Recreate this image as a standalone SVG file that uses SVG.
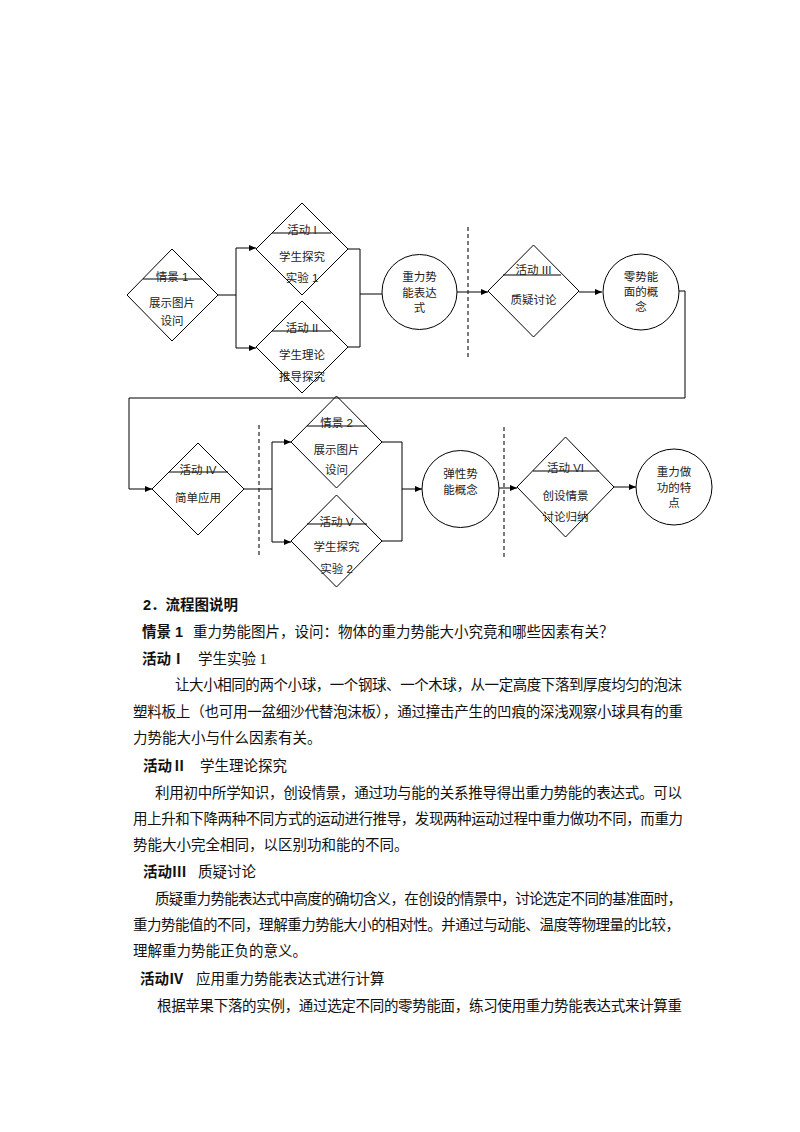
<svg xmlns="http://www.w3.org/2000/svg" width="800" height="1132" viewBox="0 0 800 1132">
<style>
.shape{fill:none;stroke:#000;stroke-width:1}
.ln{fill:none;stroke:#000;stroke-width:1}
.dash{fill:none;stroke:#222;stroke-width:1.2;stroke-dasharray:4,3}
.nt{font-family:"Liberation Sans","Noto Sans CJK SC",sans-serif;font-size:11.5px;fill:#222;text-anchor:middle}
.bt{font-family:"Liberation Serif","Noto Sans CJK SC",serif;font-size:14.5px;fill:#111}
.hd{font-family:"Liberation Sans","Noto Sans CJK SC",sans-serif;font-size:14.5px;font-weight:bold;fill:#111}
</style>
<defs>
<marker id="arr" markerWidth="8" markerHeight="8" refX="7" refY="4" orient="auto" markerUnits="userSpaceOnUse">
<path d="M0,1 L7,4 L0,7 Z" fill="#000"/>
</marker>
</defs>
<rect width="800" height="1132" fill="#fff"/>

<g id="connectors">
<path class="ln" d="M218,295 H236 M236,248 V348"/>
<path class="ln" d="M236,248 H256" marker-end="url(#arr)"/>
<path class="ln" d="M236,348 H256" marker-end="url(#arr)"/>
<path class="ln" d="M348,249 H360 V347 H348 M360,294 H382"/>
<path class="ln" d="M457,292 H488" marker-end="url(#arr)"/>
<path class="ln" d="M579,292 H602" marker-end="url(#arr)"/>
<path class="ln" d="M679,291 H685 V398 H129 V489 H152" marker-end="url(#arr)"/>
<path class="ln" d="M244,489 H272 M272,442 V542"/>
<path class="ln" d="M272,442 H291" marker-end="url(#arr)"/>
<path class="ln" d="M272,542 H291" marker-end="url(#arr)"/>
<path class="ln" d="M382,442 H402 V541 H382"/>
<path class="ln" d="M402,489 H422" marker-end="url(#arr)"/>
<path class="ln" d="M499,488 H517" marker-end="url(#arr)"/>
<path class="ln" d="M614,487 H636" marker-end="url(#arr)"/>
<path class="dash" d="M468,227 V360" stroke="#555"/>
<path class="dash" d="M259,425 V557"/>
<path class="dash" d="M504,427 V560"/>
</g>

<g id="n-qj1">
<polygon class="shape" points="172,249 218,295 172,341 127,295"/>
<line class="ln" x1="143" y1="279" x2="202" y2="279"/>
<text class="nt" x="172" y="281">情景 1</text>
<text class="nt" x="172" y="307">展示图片</text>
<text class="nt" x="172" y="325">设问</text>
</g>

<g id="n-hd1">
<polygon class="shape" points="302,203 348,249 302,295 256,249"/>
<line class="ln" x1="272" y1="233" x2="331" y2="233"/>
<text class="nt" x="302" y="234">活动 I</text>
<text class="nt" x="302" y="261">学生探究</text>
<text class="nt" x="302" y="282">实验 1</text>
</g>

<g id="n-hd2">
<polygon class="shape" points="302,301 348,347 302,393 256,347"/>
<line class="ln" x1="272" y1="331" x2="331" y2="331"/>
<text class="nt" x="302" y="332">活动 II</text>
<text class="nt" x="302" y="359">学生理论</text>
<text class="nt" x="302" y="381">推导探究</text>
</g>

<g id="n-expr">
<circle class="shape" cx="419.5" cy="292" r="37.5"/>
<text class="nt" x="419.5" y="281">重力势</text>
<text class="nt" x="419.5" y="297">能表达</text>
<text class="nt" x="419.5" y="312">式</text>
</g>

<g id="n-hd3">
<polygon class="shape" points="533.5,245 579,291 533.5,337 488,291"/>
<line class="ln" x1="503" y1="275" x2="561" y2="275"/>
<text class="nt" x="533.5" y="274">活动 III</text>
<text class="nt" x="533.5" y="304">质疑讨论</text>
</g>

<g id="n-zero">
<circle class="shape" cx="641" cy="292" r="38"/>
<text class="nt" x="641" y="281">零势能</text>
<text class="nt" x="641" y="296">面的概</text>
<text class="nt" x="641" y="311">念</text>
</g>

<g id="n-hd4">
<polygon class="shape" points="198,443 244,489 198,535 152,489"/>
<line class="ln" x1="169" y1="472" x2="228" y2="472"/>
<text class="nt" x="198" y="474">活动 IV</text>
<text class="nt" x="198" y="502">简单应用</text>
</g>

<g id="n-qj2">
<polygon class="shape" points="336.5,396 382,442 336.5,488 291,442"/>
<line class="ln" x1="307" y1="426" x2="367" y2="426"/>
<text class="nt" x="336.5" y="427">情景 2</text>
<text class="nt" x="336.5" y="454">展示图片</text>
<text class="nt" x="336.5" y="474">设问</text>
</g>

<g id="n-hd5">
<polygon class="shape" points="336.5,495 382,541 336.5,587 291,541"/>
<line class="ln" x1="307" y1="524" x2="367" y2="524"/>
<text class="nt" x="336.5" y="526">活动 V</text>
<text class="nt" x="336.5" y="551">学生探究</text>
<text class="nt" x="336.5" y="573">实验 2</text>
</g>

<g id="n-elastic">
<circle class="shape" cx="460.5" cy="489" r="38.5"/>
<text class="nt" x="460.5" y="478">弹性势</text>
<text class="nt" x="460.5" y="494">能概念</text>
</g>

<g id="n-hd6">
<polygon class="shape" points="565.5,437 614,487 565.5,537 517,487"/>
<line class="ln" x1="533" y1="471" x2="599" y2="471"/>
<text class="nt" x="565.5" y="472">活动 VI</text>
<text class="nt" x="565.5" y="500">创设情景</text>
<text class="nt" x="565.5" y="521">讨论归纳</text>
</g>

<g id="n-work">
<circle class="shape" cx="674" cy="487" r="38"/>
<text class="nt" x="674" y="476">重力做</text>
<text class="nt" x="674" y="492">功的特</text>
<text class="nt" x="674" y="507">点</text>
</g>

<g id="explanation">
<text class="hd" x="143" y="610">2．流程图说明</text>
<text class="hd" x="142" y="637">情景 1</text>
<text class="bt" x="193" y="637">重力势能图片，设问：物体的重力势能大小究竟和哪些因素有关？</text>
<text class="hd" x="142" y="664">活动Ⅰ</text>
<text class="bt" x="198" y="664">学生实验 1</text>
<text class="bt" x="175" y="690" textLength="507" lengthAdjust="spacing">让大小相同的两个小球，一个钢球、一个木球，从一定高度下落到厚度均匀的泡沫</text>
<text class="bt" x="133" y="717" textLength="550" lengthAdjust="spacing">塑料板上（也可用一盆细沙代替泡沫板），通过撞击产生的凹痕的深浅观察小球具有的重</text>
<text class="bt" x="133" y="743">力势能大小与什么因素有关。</text>
<text class="hd" x="143" y="771">活动Ⅱ</text>
<text class="bt" x="200" y="771">学生理论探究</text>
<text class="bt" x="155" y="798" textLength="527" lengthAdjust="spacing">利用初中所学知识，创设情景，通过功与能的关系推导得出重力势能的表达式。可以</text>
<text class="bt" x="133" y="824" textLength="550" lengthAdjust="spacing">用上升和下降两种不同方式的运动进行推导，发现两种运动过程中重力做功不同，而重力</text>
<text class="bt" x="133" y="850">势能大小完全相同，以区别功和能的不同。</text>
<text class="hd" x="143" y="877">活动Ⅲ</text>
<text class="bt" x="198" y="877">质疑讨论</text>
<text class="bt" x="155" y="904" textLength="527" lengthAdjust="spacing">质疑重力势能表达式中高度的确切含义，在创设的情景中，讨论选定不同的基准面时，</text>
<text class="bt" x="133" y="930" textLength="547" lengthAdjust="spacing">重力势能值的不同，理解重力势能大小的相对性。并通过与动能、温度等物理量的比较，</text>
<text class="bt" x="133" y="956">理解重力势能正负的意义。</text>
<text class="hd" x="140" y="984">活动Ⅳ</text>
<text class="bt" x="196" y="984">应用重力势能表达式进行计算</text>
<text class="bt" x="157" y="1011" textLength="525" lengthAdjust="spacing">根据苹果下落的实例，通过选定不同的零势能面，练习使用重力势能表达式来计算重</text>
</g>
</svg>
